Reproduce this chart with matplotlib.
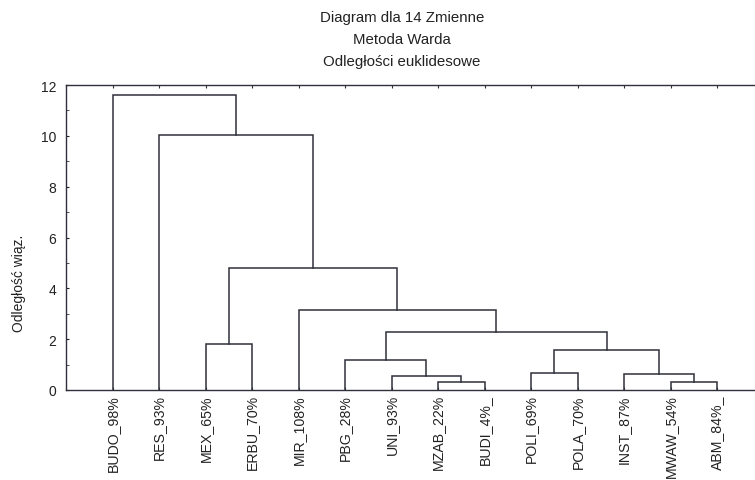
import numpy as np
import matplotlib
matplotlib.use("Agg")
import matplotlib.pyplot as plt

plt.rcParams['font.family'] = ['Liberation Sans', 'DejaVu Sans']

# leaves in the order they are drawn
labels = ["BUDO_98%", "RES_93%", "MEX_65%", "ERBU_70%", "MIR_108%", "PBG_28%", "UNI_93%",
          "MZAB_22%", "BUDI_4%_", "POLI_69%", "POLA_70%", "INST_87%", "MWAW_54%", "ABM_84%_"]

# merges: child a, child b (ids 0..13 are leaves, 14.. are new clusters), linkage distance
merge_a = [12, 7, 6, 11, 9, 5, 18, 2, 19, 4, 21, 1, 0]
merge_b = [13, 8, 15, 14, 10, 16, 17, 3, 20, 22, 23, 24, 25]
merge_h = [0.30, 0.33, 0.55, 0.64, 0.68, 1.18, 1.56, 1.80, 2.30, 3.15, 4.80, 10.04, 11.6]

title_lines = ["Diagram dla 14 Zmienne", "Metoda Warda", "Odległości euklidesowe"]
ylabel = "Odległość wiąz."

line_col = "#30303c"
txt_col = "#222222"

W, H = 755, 481
fig = plt.figure(figsize=(W / 100, H / 100), dpi=100)
ax = fig.add_axes([66 / W, 1 - 391 / H, 697.5 / W, 305 / H])

n = len(labels)
xpos = {i: i + 1.0 for i in range(n)}
hgt = {i: 0.0 for i in range(n)}
for k, (a, b, h) in enumerate(zip(merge_a, merge_b, merge_h)):
    cid = n + k
    ax.plot([xpos[a], xpos[a], xpos[b], xpos[b]], [hgt[a], h, h, hgt[b]],
            color=line_col, lw=1.1, solid_joinstyle='miter')
    xpos[cid] = (xpos[a] + xpos[b]) / 2
    hgt[cid] = h

ax.set_xlim(0, n + 1)
ax.set_ylim(0, 12)
ax.set_xticks(np.arange(1, n + 1))
ax.set_xticklabels(labels, rotation=90, fontsize=10.2, color=txt_col)
ax.set_yticks(np.arange(0, 13, 2))
ax.set_yticks(np.arange(1, 12, 2), minor=True)
ax.tick_params(axis='y', which='major', direction='in', length=2, labelsize=10,
               colors=txt_col, pad=7)
ax.tick_params(axis='y', which='minor', direction='in', length=2, colors=line_col)
ax.tick_params(axis='x', which='major', direction='in', length=2, top=True, pad=3,
               colors=line_col, labelcolor=txt_col)
for s in ax.spines.values():
    s.set_color(line_col)
    s.set_linewidth(1.0)

fig.text(19 / W, 1 - 283 / H, ylabel, rotation=90, ha='center', va='center',
         fontsize=10, color=txt_col)

for i, t in enumerate(title_lines):
    fig.text(402 / W, 1 - (18 + 22 * i) / H, t, ha='center', va='center',
             fontsize=10.8, color=txt_col)

fig.savefig("out.png", dpi=100)
